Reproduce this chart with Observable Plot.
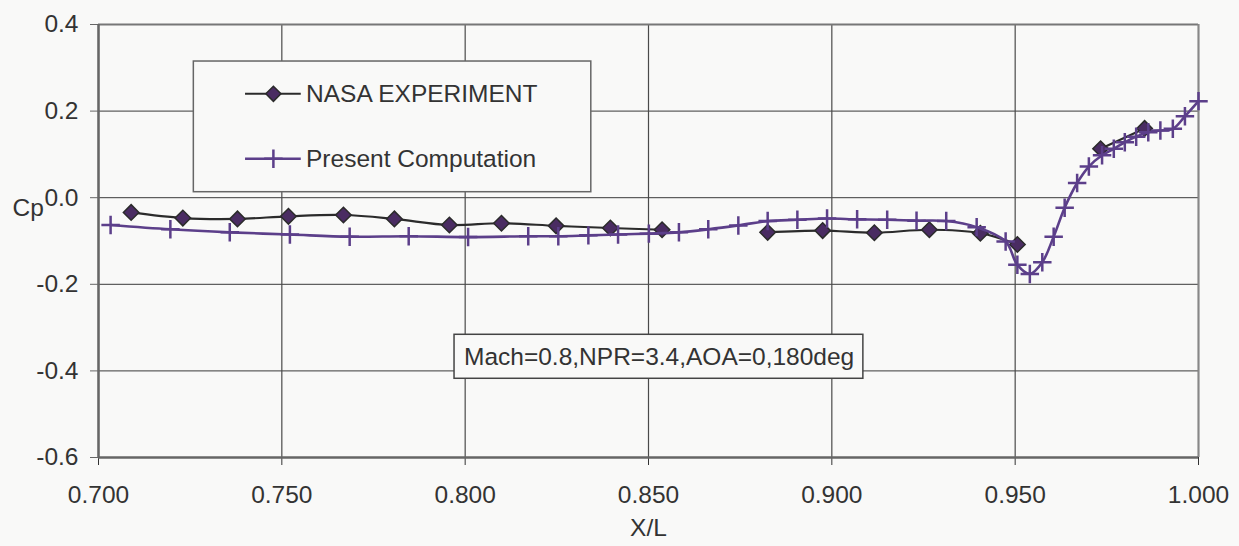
<!DOCTYPE html>
<html>
<head>
<meta charset="utf-8">
<script src="https://cdn.jsdelivr.net/npm/d3@7"></script>
<script src="https://cdn.jsdelivr.net/npm/@observablehq/plot@0.6"></script>
<style>
  html, body { margin: 0; padding: 0; background: #f9f9f8; }
</style>
</head>
<body>
<div id="chart"></div>
<script>
// ---- Data ----
const seriesNames = ["NASA EXPERIMENT", "Present Computation"];
const annotationText = "Mach=0.8,NPR=3.4,AOA=0,180deg";
const xLabel = "X/L";
const yLabel = "Cp";

// NASA experiment (null = missing measurement, line is broken there)
const expX  = [0.7089, 0.7230, 0.7379, 0.7518, 0.7668, 0.7807, 0.7957, 0.8099, 0.8248, 0.8396, 0.8537, 0.868, 0.8825, 0.8975, 0.9116, 0.9266, 0.9405, 0.9506, 0.962, 0.9733, 0.9853];
const expCp = [-0.034, -0.047, -0.049, -0.043, -0.040, -0.049, -0.063, -0.059, -0.065, -0.070, -0.074, null, -0.080, -0.076, -0.081, -0.074, -0.082, -0.108, null, 0.113, 0.160];

// Present computation
const compX  = [0.7033, 0.7196, 0.7358, 0.7522, 0.7685, 0.7846, 0.8008, 0.8172, 0.8254, 0.8336, 0.8417, 0.8501, 0.8583, 0.8663, 0.8745, 0.8825, 0.8906, 0.8987, 0.9069, 0.9151, 0.9231, 0.9312, 0.9395, 0.9474, 0.9506, 0.9540, 0.9574, 0.9605, 0.9635, 0.9669, 0.9701, 0.9737, 0.9769, 0.9799, 0.9830, 0.9863, 0.9896, 0.9930, 0.9963, 1.0000];
const compCp = [-0.063, -0.073, -0.080, -0.085, -0.090, -0.089, -0.091, -0.089, -0.089, -0.087, -0.085, -0.083, -0.080, -0.073, -0.064, -0.054, -0.051, -0.048, -0.050, -0.051, -0.053, -0.054, -0.068, -0.101, -0.155, -0.176, -0.149, -0.090, -0.023, 0.034, 0.072, 0.098, 0.113, 0.128, 0.141, 0.151, 0.155, 0.159, 0.188, 0.223];

const xTicks = [0.700, 0.750, 0.800, 0.850, 0.900, 0.950, 1.000];
const yTicks = [-0.6, -0.4, -0.2, 0.0, 0.2, 0.4];

// ---- Layout (in data units) ----
const legendBox = {x1: 0.7260, x2: 0.8344, y1: 0.0127, y2: 0.3145};
const legendRows = [0.2400, 0.0898];
const legendLine = {x1: 0.7401, x2: 0.7553, xm: 0.7477, xt: 0.7566};
const noteBox = {x1: 0.7971, x2: 0.9086, y1: -0.4182, y2: -0.3166, xc: 0.8529, yc: -0.3674};

// ---- Styles ----
const bg = "#f9f9f8";
const ink = "#333333";
const expLine = "#2b2b2b";
const expFill = "#4a2c62";
const compColor = "#5c3f8a";

const exp = expX.map((x, i) => ({x, cp: expCp[i]}));
const comp = compX.map((x, i) => ({x, cp: compCp[i]}));

const plot = Plot.plot({
  width: 1239,
  height: 546,
  marginLeft: 98,
  marginRight: 41,
  marginTop: 24,
  marginBottom: 89,
  style: {
    background: bg,
    fontFamily: "'Liberation Sans', Arial, Helvetica, sans-serif",
    fontSize: "24.5px",
    color: ink,
    overflow: "visible"
  },
  x: {domain: [0.7, 1.0]},
  y: {domain: [-0.6, 0.4]},
  marks: [
    Plot.gridY(yTicks, {stroke: "#3a3a3a", strokeOpacity: 1, strokeWidth: 1}),
    Plot.gridX(xTicks, {stroke: "#4a4a4a", strokeOpacity: 1, strokeWidth: 1.2}),
    Plot.ruleY([yTicks[yTicks.length - 1]], {stroke: "#777", strokeWidth: 2}),
    Plot.ruleX([xTicks[xTicks.length - 1]], {stroke: "#888", strokeWidth: 2}),
    Plot.axisY(yTicks, {tickSize: 8, tickPadding: 12, tickFormat: d => d.toFixed(1), label: null, stroke: "#666", fill: ink}),
    Plot.axisX(xTicks, {tickSize: 8, tickPadding: 20, tickFormat: d => d.toFixed(3), label: xLabel, labelAnchor: "center", labelOffset: 78, labelArrow: "none", stroke: "#333", fill: ink}),
    Plot.ruleX([xTicks[0]], {stroke: "#666", strokeWidth: 2.5}),
    Plot.ruleY([yTicks[0]], {stroke: "#666", strokeWidth: 2.5}),
    Plot.text([yLabel], {frameAnchor: "left", y: () => 0, text: d => d, textAnchor: "start", dx: -86, dy: 10, fill: ink}),

    // legend
    Plot.rect([legendBox], {x1: "x1", x2: "x2", y1: "y1", y2: "y2", fill: bg, stroke: "#666", strokeWidth: 1.5}),
    Plot.ruleY([legendRows[0]], {x1: () => legendLine.x1, x2: () => legendLine.x2, stroke: expLine, strokeWidth: 2}),
    Plot.dot([legendRows[0]], {x: () => legendLine.xm, y: d => d, symbol: "diamond2", r: 6.8, fill: expFill, stroke: expLine, strokeWidth: 1.5}),
    Plot.ruleY([legendRows[1]], {x1: () => legendLine.x1, x2: () => legendLine.x2, stroke: compColor, strokeWidth: 2.5}),
    Plot.dot([legendRows[1]], {x: () => legendLine.xm, y: d => d, symbol: "plus", r: 6, stroke: compColor, strokeWidth: 2.5}),
    Plot.text(seriesNames, {x: () => legendLine.xt, y: (d, i) => legendRows[i], text: d => d, textAnchor: "start", fill: ink}),

    // annotation
    Plot.rect([noteBox], {x1: "x1", x2: "x2", y1: "y1", y2: "y2", fill: bg, stroke: "#444", strokeWidth: 1.5}),
    Plot.text([annotationText], {x: () => noteBox.xc, y: () => noteBox.yc, text: d => d, textAnchor: "middle", fill: ink}),

    // data
    Plot.line(exp, {x: "x", y: "cp", stroke: expLine, strokeWidth: 2.2, curve: "catmull-rom"}),
    Plot.dot(exp, {x: "x", y: "cp", symbol: "diamond2", r: 7, fill: expFill, stroke: expLine, strokeWidth: 1.5}),
    Plot.line(comp, {x: "x", y: "cp", stroke: compColor, strokeWidth: 2.6, curve: "catmull-rom"}),
    Plot.dot(comp, {x: "x", y: "cp", symbol: "plus", r: 6, stroke: compColor, strokeWidth: 2.5})
  ]
});

document.getElementById("chart").appendChild(plot);
</script>
</body>
</html>
